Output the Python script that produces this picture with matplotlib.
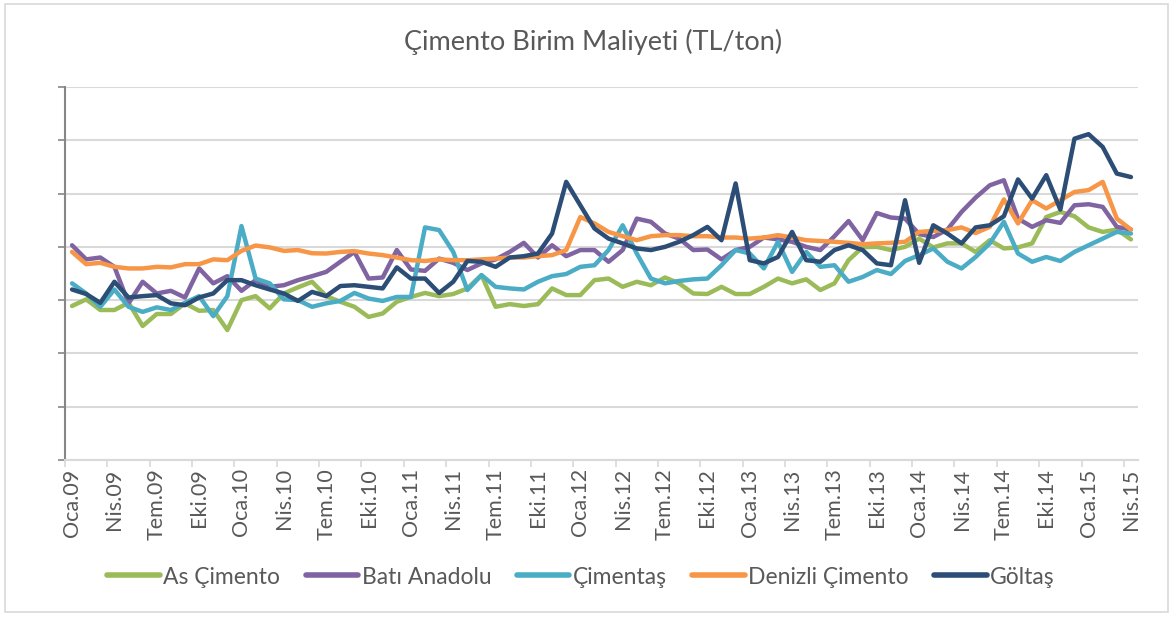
import matplotlib
matplotlib.use("Agg")
import matplotlib.pyplot as plt
from matplotlib.patches import Rectangle
import numpy as np

# monthly, Oca.09 .. Nis.15 (76 months); values in TL/ton (axis has no labels)
months_tr = ["Oca", "Şub", "Mar", "Nis", "May", "Haz", "Tem", "Ağu", "Eyl", "Eki", "Kas", "Ara"]
years = ["09", "10", "11", "12", "13", "14", "15"]
month_labels = [f"{m}.{y}" for y in years for m in months_tr][:76]

as_cimento = [57.8, 60.3, 56.3, 56.3, 59.0, 50.3, 54.8, 54.8, 58.8, 56.0, 56.3, 48.8,
              60.0, 61.5, 56.9, 62.5, 64.8, 66.9, 61.5, 59.4, 57.5, 53.7, 55.0, 59.4,
              61.2, 62.7, 61.5, 62.3, 64.4, 69.4, 57.5, 58.5, 57.8, 58.5, 64.4, 61.9,
              61.9, 67.5, 68.1, 65.0, 66.9, 65.6, 68.5, 66.3, 62.5, 62.3, 65.0, 62.3,
              62.3, 65.0, 68.1, 66.3, 67.8, 63.8, 66.3, 75.0, 79.9, 80.0, 78.8, 80.0,
              83.1, 79.8, 81.3, 81.3, 78.1, 82.5, 79.4, 79.8, 81.3, 91.2, 93.1, 91.5,
              87.3, 85.6, 86.5, 82.8]
bati_anadolu = [80.6, 75.3, 76.0, 72.5, 58.8, 66.9, 62.5, 63.5, 61.0, 71.9, 66.3, 69.0,
                63.5, 67.5, 65.0, 65.6, 67.5, 69.0, 70.6, 74.4, 78.1, 68.1, 68.5, 78.8,
                71.5, 71.0, 75.6, 74.0, 71.3, 73.8, 75.3, 78.1, 81.5, 76.0, 80.6, 76.5,
                78.8, 78.8, 74.4, 78.8, 90.6, 89.4, 85.0, 83.1, 78.8, 79.0, 75.3, 78.8,
                80.0, 83.5, 82.8, 81.9, 80.0, 78.8, 84.0, 89.7, 82.5, 92.7, 91.0, 90.6,
                84.8, 83.7, 86.5, 93.1, 98.5, 103.1, 105.0, 90.6, 87.5, 90.0, 89.0, 95.6,
                96.0, 95.0, 87.5, 86.5]
cimentas = [66.3, 62.5, 57.5, 64.0, 57.5, 55.6, 57.3, 56.3, 59.0, 61.5, 54.0, 61.5,
            87.8, 68.1, 66.3, 60.3, 60.0, 57.5, 58.8, 59.7, 62.7, 60.6, 59.7, 61.2,
            61.2, 87.3, 86.3, 78.1, 63.8, 69.4, 65.0, 64.4, 64.0, 66.9, 69.0, 69.8,
            72.5, 73.1, 78.8, 88.1, 77.5, 68.1, 66.3, 67.2, 67.8, 68.1, 73.1, 78.8,
            77.5, 71.9, 81.9, 70.6, 78.1, 72.5, 73.1, 66.9, 68.7, 71.3, 69.8, 74.7,
            76.9, 79.4, 74.4, 71.9, 76.2, 81.3, 89.4, 77.5, 74.4, 76.2, 74.7, 78.1,
            80.6, 83.1, 85.6, 85.0]
denizli = [78.1, 73.5, 74.0, 72.5, 71.9, 71.9, 72.5, 72.3, 73.5, 73.5, 75.3, 75.0,
           78.5, 80.5, 79.8, 78.5, 78.8, 77.6, 77.5, 78.1, 78.4, 77.5, 76.9, 76.0,
           75.0, 74.7, 75.3, 75.0, 75.0, 75.3, 75.6, 76.0, 76.0, 76.5, 76.9, 78.8,
           91.2, 88.8, 85.6, 84.0, 82.5, 84.0, 84.4, 84.4, 84.0, 84.0, 83.5, 83.5,
           83.1, 83.5, 84.4, 83.5, 82.5, 82.2, 81.9, 81.5, 81.0, 81.3, 81.5, 81.9,
           85.6, 86.0, 86.3, 87.3, 85.2, 87.5, 97.8, 88.8, 97.5, 94.4, 97.5, 100.6,
           101.3, 104.4, 90.6, 86.5]
goltas = [64.0, 62.3, 59.0, 66.9, 61.0, 61.5, 61.9, 58.8, 58.1, 61.0, 62.5, 67.5,
          67.5, 65.6, 64.0, 62.5, 59.7, 63.1, 61.5, 65.3, 65.6, 65.0, 64.4, 72.3,
          68.1, 68.1, 62.7, 66.9, 74.7, 74.4, 72.5, 76.0, 76.5, 77.5, 85.0, 104.4,
          95.6, 86.9, 83.1, 81.3, 79.4, 78.8, 80.0, 81.9, 84.4, 87.5, 82.5, 103.8,
          75.0, 73.8, 76.2, 85.6, 75.0, 74.4, 78.8, 80.6, 78.8, 73.8, 73.1, 97.5,
          74.0, 88.1, 85.0, 81.3, 87.3, 88.1, 91.5, 105.3, 98.1, 106.9, 94.0, 120.6,
          122.3, 117.5, 107.5, 106.2]

series = [("As Çimento", as_cimento, "#9BBB59"),
          ("Batı Anadolu", bati_anadolu, "#8064A2"),
          ("Çimentaş", cimentas, "#4BACC6"),
          ("Denizli Çimento", denizli, "#F79646"),
          ("Göltaş", goltas, "#2C4D75")]

plt.rcParams['font.family'] = ['Lato', 'DejaVu Sans']
text_col = "#595959"
grid_col = "#D9D9D9"

fig = plt.figure(figsize=(11.75, 6.19), dpi=100)
fig.patches.append(Rectangle((0.004, 0.011), 0.99, 0.982, transform=fig.transFigure,
                             fill=False, edgecolor=grid_col, linewidth=1.2))
ax = fig.add_axes([65 / 1175, 1 - 460 / 619, 1073 / 1175, 373 / 619])

x = np.arange(len(month_labels))
for name, vals, col in series:
    ax.plot(x, vals, color=col, lw=3.2, label=name,
            solid_joinstyle='round', solid_capstyle='round')

ax.set_xlim(-0.5, len(month_labels) - 0.5)
ax.set_ylim(0, 140)
ax.set_yticks(np.arange(0, 141, 20))
ax.set_yticklabels([])
ax.yaxis.grid(True, color=grid_col, lw=1.5)
ax.set_axisbelow(True)

ax.set_xticks(x[::3])
ax.set_xticklabels(month_labels[::3], rotation=90, color=text_col, fontsize=15.5)
ax.set_xticks(np.arange(-0.5, len(month_labels) - 1, 3), minor=True)
ax.tick_params(axis='x', which='major', length=0, pad=6)
ax.tick_params(axis='x', which='minor', length=5, width=1.2, color=grid_col)
ax.tick_params(axis='y', length=5, width=1.2, color="#868686")

for s in ['top', 'right']:
    ax.spines[s].set_visible(False)
ax.spines['left'].set_color("#868686")
ax.spines['left'].set_linewidth(1.5)
ax.spines['bottom'].set_color(grid_col)
ax.spines['bottom'].set_linewidth(1.5)

fig.text(593 / 1175, 1 - 42 / 619, "Çimento Birim Maliyeti (TL/ton)",
         ha='center', va='center', fontsize=19.5, color=text_col)

leg = fig.legend(loc='center', bbox_to_anchor=(581 / 1175, 1 - 577 / 619), ncol=5,
                 frameon=False, fontsize=16.5, handlelength=2.3, handletextpad=0.15,
                 columnspacing=1.1, labelcolor=text_col)
for h in leg.get_lines():
    h.set_linewidth(4)

fig.savefig("out.png", dpi=100)
